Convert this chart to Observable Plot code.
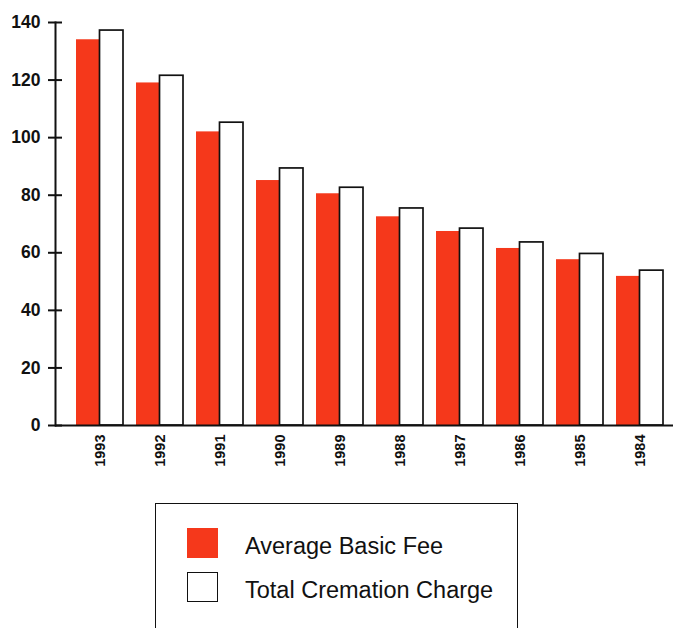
<!DOCTYPE html>
<html><head><meta charset="utf-8">
<script src="https://cdn.jsdelivr.net/npm/d3@7"></script>
<script src="https://cdn.jsdelivr.net/npm/@observablehq/plot@0.6"></script>
<style>
body{margin:0;background:#fff;font-family:"Liberation Sans",Arial,sans-serif;}
#wrap{position:relative;width:673px;height:628px;overflow:hidden;background:#fff;}
#chart{position:absolute;left:0;top:0;}
#legend{position:absolute;left:155px;top:503px;width:363px;height:150px;border:1.5px solid #111;box-sizing:border-box;}
.item{position:absolute;left:31px;display:flex;align-items:center;font-size:23.5px;color:#111;}
.item span{position:relative;top:3px;}
.sw{width:31px;height:30px;box-sizing:border-box;margin-right:27px;}
</style>
</head><body>
<div id="wrap"><div id="chart"></div><div id="legend"></div></div>
<script>
const years = ["1993","1992","1991","1990","1989","1988","1987","1986","1985","1984"];
const basicFee = [134, 119, 102, 85.1, 80.5, 72.5, 67.4, 61.5, 57.6, 51.8];
const totalCharge = [137.2, 121.5, 105.2, 89.3, 82.6, 75.4, 68.4, 63.6, 59.6, 53.8];
const seriesNames = ["Average Basic Fee", "Total Cremation Charge"];
const seriesColors = ["#f5381b", "#ffffff"];
const yTicks = [0, 20, 40, 60, 80, 100, 120, 140];

const data = years.map((y, i) => ({year: y, basic: basicFee[i], total: totalCharge[i]}));
const half = 23.5;

const plot = Plot.plot({
  width: 673,
  height: 490,
  marginLeft: 55,
  marginRight: 0,
  marginTop: 22,
  marginBottom: 65,
  style: {fontFamily: "'Liberation Sans', Arial, sans-serif", background: "#fff", color: "#111"},
  x: {domain: years, range: [74, 664], paddingInner: 0.22, paddingOuter: 0, axis: null, label: null},
  y: {domain: [0, 140], axis: null, label: null},
  marks: [
    Plot.barY(data, {x: "year", y: "basic", fill: seriesColors[0], insetRight: half}),
    Plot.barY(data, {x: "year", y: "total", fill: seriesColors[1], stroke: "#111", strokeWidth: 1.7, insetLeft: half}),
    Plot.axisY({ticks: yTicks, tickSize: 14, dx: 7, tickPadding: 8, fontSize: 17.5, fontWeight: "bold", strokeWidth: 2, tickFormat: d => String(d), label: null}),
    Plot.frame({anchor: "left", strokeWidth: 2}),
    Plot.ruleY([0], {strokeWidth: 2}),
    Plot.axisX({tickRotate: -90, tickSize: 0, tickPadding: 9, fontSize: 14.5, fontWeight: "bold", label: null})
  ]
});
document.getElementById("chart").appendChild(plot);

const legend = document.getElementById("legend");
seriesNames.forEach((name, i) => {
  const item = document.createElement("div");
  item.className = "item";
  item.style.top = (i === 0 ? 24 : 68) + "px";
  const sw = document.createElement("div");
  sw.className = "sw";
  sw.style.background = seriesColors[i];
  sw.style.border = i === 0 ? "none" : "1.5px solid #111";
  item.appendChild(sw);
  const t = document.createElement("span");
  t.textContent = name;
  item.appendChild(t);
  legend.appendChild(item);
});
</script>
</body></html>
